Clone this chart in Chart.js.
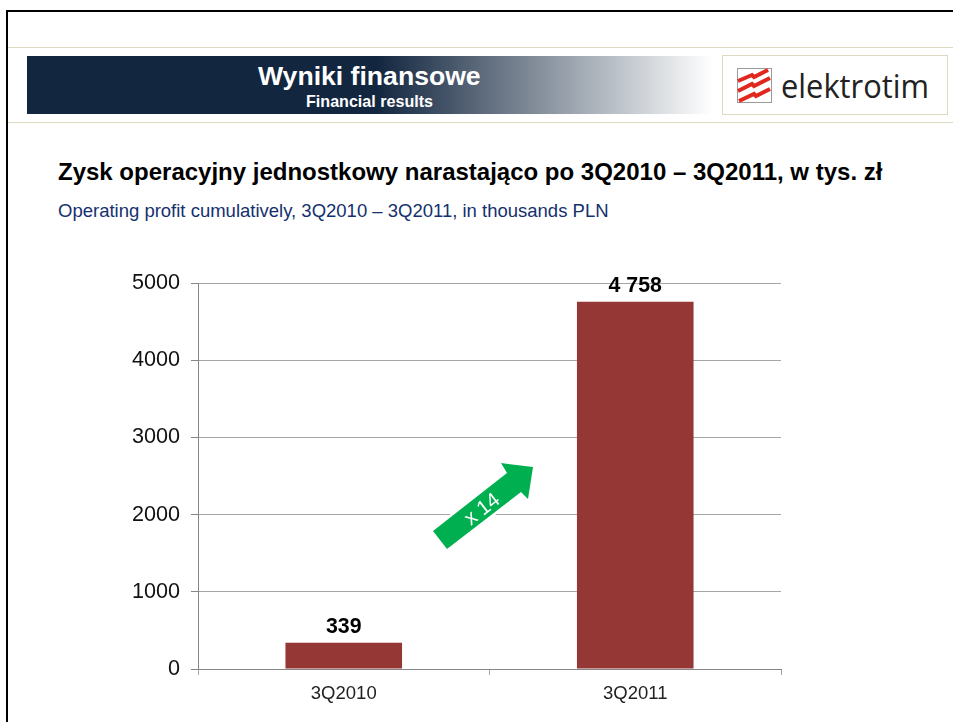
<!DOCTYPE html>
<html><head><meta charset="utf-8">
<script src="https://cdn.jsdelivr.net/npm/chart.js@4"></script>
<style>
html,body{margin:0;padding:0;background:#fff;width:953px;height:722px;overflow:hidden;font-family:"Liberation Sans",Arial,sans-serif}
.a{position:absolute;white-space:nowrap}
#wrap{position:absolute;left:0;top:0;width:953px;height:722px}
</style></head><body>
<div class="a" style="left:6px;top:10px;width:947px;height:712px;border-left:2.5px solid #000;border-top:2.5px solid #000;box-sizing:border-box"></div>
<div class="a" style="left:8px;top:47px;width:945px;height:1px;background:#ddd9c3"></div>
<div class="a" style="left:8px;top:122px;width:945px;height:1px;background:#ddd9c3"></div>
<div class="a" style="left:27px;top:56px;width:685px;height:58px;background:linear-gradient(90deg,#12263f 0,#12263f 51%,#fff 100%)"></div>
<div class="a" style="left:258px;top:61px;font-size:26.6px;font-weight:bold;color:#fff;line-height:30px">Wyniki finansowe</div>
<div class="a" style="left:306px;top:92px;font-size:16.1px;font-weight:bold;color:#fff;line-height:18px">Financial results</div>
<svg class="a" style="left:722px;top:55px" width="227" height="61" viewBox="0 0 227 61">
  <rect x="0.5" y="0.5" width="225" height="59" fill="#fff" stroke="#ddd9c3"/>
  <rect x="15.5" y="13.5" width="34" height="34" fill="#fff" stroke="#9a9a9a"/>
  <g fill="none" stroke="#e0281f" stroke-width="4">
    <path d="M16 26 L30 20 L32 22 L46 15"/>
    <path d="M16 36 L30 29 L32 31 L48 23"/>
    <path d="M17 46 L32 39 L34 41 L48 34"/>
  </g>
  <text x="59" y="43" font-family="'Open Sans'" font-size="32" fill="#222" textLength="148" lengthAdjust="spacingAndGlyphs">elektrotim</text>
</svg>
<div class="a" style="left:58px;top:158px;font-size:24px;font-weight:bold;color:#000;line-height:28px">Zysk operacyjny jednostkowy narastająco po 3Q2010 – 3Q2011, w tys. zł</div>
<div class="a" style="left:58px;top:201px;font-size:18.5px;color:#14306e;line-height:20px">Operating profit cumulatively, 3Q2010 – 3Q2011, in thousands PLN</div>
<div id="wrap"><canvas id="c" width="953" height="722"></canvas></div>
<svg class="a" style="left:0;top:0" width="953" height="722">
  <polygon points="433,531 507,473 501,463 533,467 528,499 521,492 447,549" fill="#00b050" stroke="#fff" stroke-width="5" paint-order="stroke"/>
  <text x="482" y="515.5" text-anchor="middle" font-family="'Liberation Sans'" font-size="20.5" fill="#fff" transform="rotate(-38 482 509)">x 14</text>
</svg>
<script>
const categories = ["3Q2010", "3Q2011"];
const operatingProfit = [339, 4758];
const valueLabels = ["339", "4 758"];
const yTicks = [0, 1000, 2000, 3000, 4000, 5000];

const barLabels = {
  id: "barLabels",
  afterDatasetsDraw(chart) {
    const ctx = chart.ctx;
    ctx.save();
    ctx.font = 'bold 21.3px "Liberation Sans"';
    ctx.fillStyle = "#000";
    ctx.textAlign = "center";
    ctx.textBaseline = "alphabetic";
    chart.getDatasetMeta(0).data.forEach((bar, i) => {
      ctx.fillText(valueLabels[i], bar.x, bar.y - 10);
    });
    ctx.restore();
  }
};

new Chart(document.getElementById("c"), {
  type: "bar",
  data: {
    labels: categories,
    datasets: [{ data: operatingProfit, backgroundColor: "#953735", borderWidth: 0, barPercentage: 0.4, categoryPercentage: 1 }]
  },
  options: {
    responsive: false,
    animation: false,
    layout: { padding: { top: 283, right: 172, bottom: 0, left: 0 } },
    plugins: { legend: { display: false }, tooltip: { enabled: false } },
    scales: {
      x: {
        offset: true,
        afterFit(s) { s.height = 53; },
        grid: { drawOnChartArea: false, tickLength: 6, color: "#a6a6a6", offset: true },
        border: { color: "#868686" },
        ticks: { color: "#222", font: { family: "Liberation Sans", size: 18.5 }, padding: 8, maxRotation: 0 }
      },
      y: {
        min: 0, max: 5000,
        afterFit(s) { s.width = 198; },
        afterBuildTicks(s) { s.ticks = yTicks.map(v => ({ value: v })); },
        grid: { color: "#a6a6a6", tickLength: 7, tickColor: "#868686" },
        border: { color: "#868686" },
        ticks: { color: "#111", font: { family: "Liberation Sans", size: 21.6 }, padding: 11, callback: v => String(v) }
      }
    }
  },
  plugins: [barLabels]
});
</script>
</body></html>
